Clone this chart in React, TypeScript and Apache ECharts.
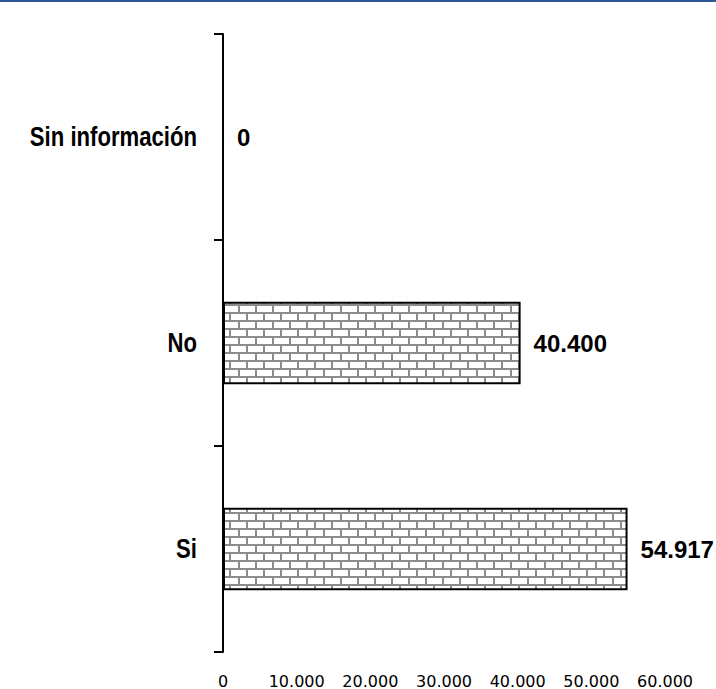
import React, { useEffect, useRef } from "react";
import * as echarts from "echarts";

const categories = ["Si", "No", "Sin información"];
const values = [54917, 40400, 0];
const xMin = 0;
const xMax = 60000;
const xInterval = 10000;

function fmt(n: number): string {
  return String(Math.round(n)).replace(/\B(?=(\d{3})+(?!\d))/g, ".");
}

function makeBrickTile(): string {
  const w = 34;
  const h = 16;
  const c = document.createElement("canvas");
  c.width = w;
  c.height = h;
  const ctx = c.getContext("2d")!;
  ctx.fillStyle = "#ffffff";
  ctx.fillRect(0, 0, w, h);
  ctx.fillStyle = "#8c8c8c";
  ctx.fillRect(0, 0, w, 2);
  ctx.fillRect(0, 8, w, 2);
  ctx.fillRect(0, 0, 2, 8);
  ctx.fillRect(17, 0, 2, 8);
  ctx.fillRect(8, 8, 2, 8);
  ctx.fillRect(25, 8, 2, 8);
  return c.toDataURL();
}

export default function App() {
  const ref = useRef<HTMLDivElement>(null);
  useEffect(() => {
    document.body.style.margin = "0";
    if (!ref.current) return;
    const chart = echarts.init(ref.current, null, { renderer: "svg" });
    const tile = makeBrickTile();
    const topLine = {
      type: "rect",
      shape: { x: 0, y: 0, width: 716, height: 2 },
      style: { fill: "#2f5597" },
    };
    chart.setOption({
      animation: false,
      backgroundColor: "#ffffff",
      grid: {
        left: 223,
        right: 51,
        top: 34,
        bottom: 37,
        containLabel: false,
        outerBoundsMode: "none",
      },
      graphic: [topLine],
      xAxis: {
        type: "value",
        min: xMin,
        max: xMax,
        interval: xInterval,
        axisLine: { show: false },
        axisTick: { show: false },
        splitLine: { show: false },
        axisLabel: {
          margin: 21,
          color: "#000",
          fontFamily: "'DejaVu Sans', sans-serif",
          fontSize: 16,
          formatter: (v: number) => fmt(v),
        },
      },
      yAxis: {
        type: "category",
        data: categories,
        axisLine: { show: true, lineStyle: { color: "#000", width: 2 } },
        axisTick: { show: true, length: 9, lineStyle: { color: "#000", width: 2 } },
        axisLabel: { show: false },
        splitLine: { show: false },
      },
      series: [
        {
          type: "bar",
          data: values,
          barWidth: "40%",
          itemStyle: {
            color: { image: tile, repeat: "repeat" },
            borderColor: "#000",
            borderWidth: 2,
          },
          label: {
            show: true,
            position: "right",
            distance: 13,
            color: "#000",
            fontWeight: "bold",
            fontFamily: "'Liberation Sans', sans-serif",
            fontSize: 24,
            formatter: (p: any) => fmt(p.value),
          },
        },
      ],
    });
    // category labels in a condensed bold style, placed through the axis scale
    const axisX = chart.convertToPixel({ xAxisIndex: 0 }, 0) as number;
    const labelTexts = categories.map((cat) => {
      const y = chart.convertToPixel({ yAxisIndex: 0 }, cat) as number;
      return {
        type: "text",
        x: axisX - 26,
        y: y,
        scaleX: 0.82,
        style: {
          text: cat,
          x: 0,
          y: 0,
          align: "right",
          verticalAlign: "middle",
          fill: "#000",
          fontWeight: "bold",
          fontFamily: "'Liberation Sans', sans-serif",
          fontSize: 27,
        },
      };
    });
    chart.setOption({ graphic: [topLine, ...labelTexts] });
    return () => chart.dispose();
  }, []);
  return <div ref={ref} style={{ width: 716, height: 689 }} />;
}
